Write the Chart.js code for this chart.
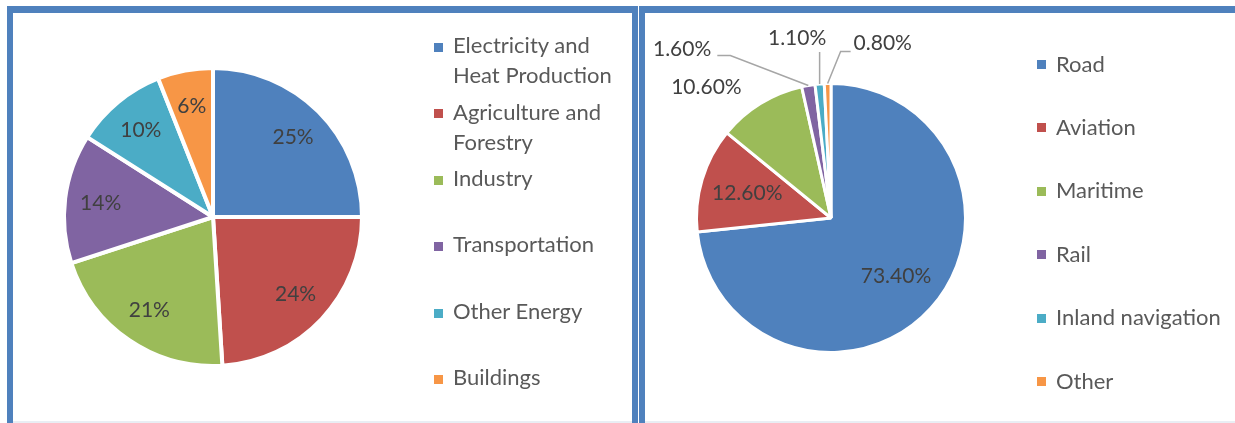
<!DOCTYPE html>
<html><head><meta charset="utf-8">
<script src="https://cdn.jsdelivr.net/npm/chart.js@4.4.1/dist/chart.umd.min.js"></script>
<style>
html,body{margin:0;padding:0;background:#fff;overflow:hidden;width:1235px;height:423px;}
.panel{position:absolute;box-sizing:content-box;border-color:#4F81BD;border-style:solid;background:#fff;}
#p1{left:7px;top:6px;width:619px;height:420px;border-width:7px 6px 0 6px;}
#p2{left:639px;top:6px;width:620px;height:420px;border-width:7px 0 0 6px;}
.strip{position:absolute;left:0;right:0;top:408px;height:2px;background:#e9eef4;}
canvas{position:absolute;left:0;top:0;}
.leg{position:absolute;font-family:Lato,sans-serif;font-size:22px;line-height:30px;color:#595959;white-space:normal;}
.sw{position:absolute;width:9px;height:9px;}
</style></head><body>
<div id="p1" class="panel"><canvas id="c1" width="619" height="408"></canvas><div class="strip"></div><div id="l1"></div></div>
<div id="p2" class="panel"><canvas id="c2" width="590" height="408"></canvas><div class="strip"></div><div id="l2"></div></div>
<script>
// ---- data ----
const sectorLabels = ['Electricity and Heat Production', 'Agriculture and Forestry', 'Industry', 'Transportation', 'Other Energy', 'Buildings'];
const sectorValues = [25, 24, 21, 14, 10, 6];
const transportLabels = ['Road', 'Aviation', 'Maritime', 'Rail', 'Inland navigation', 'Other'];
const transportValues = [73.4, 12.6, 10.6, 1.6, 1.1, 0.8];
const palette = ['#4F81BD', '#C0504D', '#9BBB59', '#8064A2', '#4BACC6', '#F79646'];

// ---- label plugin ----
const pieLabels = {
  id: 'pieLabels',
  afterDatasetsDraw(chart, args, opts) {
    const ctx = chart.ctx;
    const meta = chart.getDatasetMeta(0);
    const ds = chart.data.datasets[0];
    ctx.save();
    ctx.font = opts.font;
    ctx.fillStyle = opts.color;
    ctx.strokeStyle = opts.lineColor;
    ctx.lineWidth = 1.5;
    ctx.textBaseline = 'middle';
    meta.data.forEach((arc, i) => {
      const p = arc.getProps(['x', 'y', 'startAngle', 'endAngle', 'outerRadius'], true);
      const mid = (p.startAngle + p.endAngle) / 2;
      const text = opts.format(ds.data[i]);
      const c = opts.custom && opts.custom[i];
      if (!c) {
        const r = p.outerRadius * opts.inside;
        ctx.textAlign = 'center';
        ctx.fillText(text, p.x + Math.cos(mid) * r, p.y + Math.sin(mid) * r);
      } else {
        const ex = p.x + Math.cos(mid) * p.outerRadius;
        const ey = p.y + Math.sin(mid) * p.outerRadius;
        if (c.line) {
          ctx.beginPath();
          ctx.moveTo(ex, ey);
          c.line.forEach(q => ctx.lineTo(ex + q[0], ey + q[1]));
          ctx.stroke();
        }
        ctx.textAlign = c.align;
        ctx.fillText(text, ex + c.tx, ey + c.ty);
      }
    });
    ctx.restore();
  }
};

function makePie(id, labels, values, padding, border, labelOpts) {
  return new Chart(document.getElementById(id), {
    type: 'pie',
    data: { labels, datasets: [{ data: values, backgroundColor: palette, borderColor: '#ffffff', borderWidth: border }] },
    options: {
      responsive: false, animation: false, devicePixelRatio: 1,
      layout: { padding },
      plugins: { legend: { display: false }, tooltip: { enabled: false }, pieLabels: labelOpts }
    },
    plugins: [pieLabels]
  });
}

makePie('c1', sectorLabels, sectorValues, { left: 49, top: 53, right: 268, bottom: 53 }, 4, {
  font: '21px Lato', color: '#404040', lineColor: '#A6A6A6', inside: 0.76,
  format: v => v + '%'
});

makePie('c2', transportLabels, transportValues, { left: 50, top: 69, right: 268, bottom: 67 }, 3, {
  font: '21px Lato', color: '#404040', lineColor: '#A6A6A6', inside: 0.65,
  format: v => v.toFixed(2) + '%',
  custom: {
    2: { tx: -54, ty: -16, align: 'center' },
    3: { line: [[-78, -30], [-91, -30]], tx: -97, ty: -36.5, align: 'right' },
    4: { line: [[0, -32]], tx: -22.5, ty: -46, align: 'center' },
    5: { line: [[13, -32], [23, -32]], tx: 26, ty: -40.5, align: 'left' }
  }
});

// ---- HTML legends ----
function makeLegend(id, labels, cfg) {
  const host = document.getElementById(id);
  labels.forEach((t, i) => {
    const top = cfg.top + i * cfg.step;
    const sw = document.createElement('div');
    sw.className = 'sw';
    sw.style.left = cfg.swLeft + 'px';
    sw.style.top = (top + cfg.swOff) + 'px';
    sw.style.background = palette[i];
    host.appendChild(sw);
    const d = document.createElement('div');
    d.className = 'leg';
    d.style.left = cfg.textLeft + 'px';
    d.style.top = top + 'px';
    d.style.width = cfg.width + 'px';
    d.textContent = t;
    host.appendChild(d);
  });
}
makeLegend('l1', sectorLabels, { top: 17.2, step: 66.4, swLeft: 421, swOff: 12.8, textLeft: 440, width: 170 });
makeLegend('l2', transportLabels, { top: 35.6, step: 63.4, swLeft: 392, swOff: 11.4, textLeft: 411, width: 190 });
</script>
</body></html>
